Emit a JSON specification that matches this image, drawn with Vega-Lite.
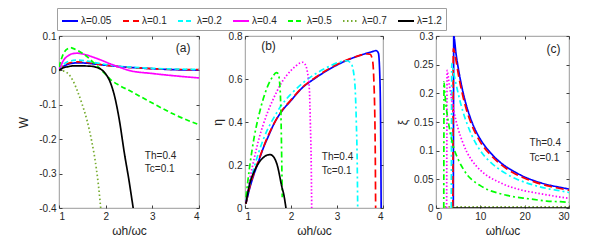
{
"$schema": "https://vega.github.io/schema/vega-lite/v6.json",
"padding": {"left": 17, "top": 7, "right": 5, "bottom": 5},
"background": "white",
"bounds": "flush",
"datasets": {
"A": [
{"l":0.05,"x":1,"y":0},{"l":0.05,"x":1.1,"y":0.012},{"l":0.05,"x":1.2,"y":0.018},{"l":0.05,"x":1.3,"y":0.021},{"l":0.05,"x":1.4,"y":0.022},{"l":0.05,"x":1.6,"y":0.021},{"l":0.05,"x":1.8,"y":0.018},{"l":0.05,"x":2.0,"y":0.015},{"l":0.05,"x":2.3,"y":0.011},{"l":0.05,"x":2.6,"y":0.008},{"l":0.05,"x":3.0,"y":0.005},{"l":0.05,"x":3.5,"y":0.002},{"l":0.05,"x":4,"y":0.001},
{"l":0.1,"x":1,"y":0},{"l":0.1,"x":1.1,"y":0.014},{"l":0.1,"x":1.2,"y":0.021},{"l":0.1,"x":1.3,"y":0.024},{"l":0.1,"x":1.4,"y":0.025},{"l":0.1,"x":1.6,"y":0.023},{"l":0.1,"x":1.8,"y":0.019},{"l":0.1,"x":2.0,"y":0.015},{"l":0.1,"x":2.3,"y":0.011},{"l":0.1,"x":2.6,"y":0.008},{"l":0.1,"x":3.0,"y":0.005},{"l":0.1,"x":3.5,"y":0.003},{"l":0.1,"x":4,"y":0.002},
{"l":0.2,"x":1,"y":0},{"l":0.2,"x":1.1,"y":0.018},{"l":0.2,"x":1.2,"y":0.026},{"l":0.2,"x":1.3,"y":0.029},{"l":0.2,"x":1.4,"y":0.03},{"l":0.2,"x":1.6,"y":0.027},{"l":0.2,"x":1.8,"y":0.022},{"l":0.2,"x":2.0,"y":0.017},{"l":0.2,"x":2.3,"y":0.012},{"l":0.2,"x":2.6,"y":0.009},{"l":0.2,"x":3.0,"y":0.006},{"l":0.2,"x":3.5,"y":0.004},{"l":0.2,"x":4,"y":0.003},
{"l":0.4,"x":1,"y":0},{"l":0.4,"x":1.1,"y":0.03},{"l":0.4,"x":1.2,"y":0.043},{"l":0.4,"x":1.3,"y":0.049},{"l":0.4,"x":1.4,"y":0.05},{"l":0.4,"x":1.5,"y":0.048},{"l":0.4,"x":1.7,"y":0.04},{"l":0.4,"x":1.9,"y":0.03},{"l":0.4,"x":2.1,"y":0.019},{"l":0.4,"x":2.3,"y":0.009},{"l":0.4,"x":2.5,"y":0.0},{"l":0.4,"x":3.0,"y":-0.009},{"l":0.4,"x":3.5,"y":-0.016},{"l":0.4,"x":4,"y":-0.022},
{"l":0.5,"x":1,"y":0.01},{"l":0.5,"x":1.1,"y":0.05},{"l":0.5,"x":1.2,"y":0.064},{"l":0.5,"x":1.25,"y":0.066},{"l":0.5,"x":1.3,"y":0.064},{"l":0.5,"x":1.4,"y":0.058},{"l":0.5,"x":1.5,"y":0.05},{"l":0.5,"x":1.6,"y":0.04},{"l":0.5,"x":1.7,"y":0.028},{"l":0.5,"x":1.8,"y":0.015},{"l":0.5,"x":1.9,"y":0.002},{"l":0.5,"x":2.0,"y":-0.012},{"l":0.5,"x":2.1,"y":-0.026},{"l":0.5,"x":2.3,"y":-0.044},{"l":0.5,"x":2.5,"y":-0.058},{"l":0.5,"x":3.0,"y":-0.095},{"l":0.5,"x":3.5,"y":-0.13},{"l":0.5,"x":4,"y":-0.158},
{"l":0.7,"x":1,"y":0},{"l":0.7,"x":1.1,"y":-0.002},{"l":0.7,"x":1.2,"y":-0.01},{"l":0.7,"x":1.3,"y":-0.03},{"l":0.7,"x":1.4,"y":-0.062},{"l":0.7,"x":1.5,"y":-0.1},{"l":0.7,"x":1.6,"y":-0.145},{"l":0.7,"x":1.7,"y":-0.205},{"l":0.7,"x":1.8,"y":-0.285},{"l":0.7,"x":1.85,"y":-0.34},{"l":0.7,"x":1.9,"y":-0.41},
{"l":1.2,"x":1,"y":0},{"l":1.2,"x":1.1,"y":0.008},{"l":1.2,"x":1.2,"y":0.011},{"l":1.2,"x":1.3,"y":0.013},{"l":1.2,"x":1.5,"y":0.013},{"l":1.2,"x":1.7,"y":0.012},{"l":1.2,"x":1.8,"y":0.009},{"l":1.2,"x":1.9,"y":0.003},{"l":1.2,"x":2.0,"y":-0.01},{"l":1.2,"x":2.1,"y":-0.035},{"l":1.2,"x":2.2,"y":-0.08},{"l":1.2,"x":2.3,"y":-0.15},{"l":1.2,"x":2.4,"y":-0.24},{"l":1.2,"x":2.5,"y":-0.32},{"l":1.2,"x":2.6,"y":-0.41}
],
"B": [
{"l":0.05,"x":1.02,"y":0.02},{"l":0.05,"x":1.1,"y":0.09},{"l":0.05,"x":1.2,"y":0.16},{"l":0.05,"x":1.3,"y":0.22},{"l":0.05,"x":1.4,"y":0.28},{"l":0.05,"x":1.5,"y":0.33},{"l":0.05,"x":1.65,"y":0.4},{"l":0.05,"x":1.8,"y":0.45},{"l":0.05,"x":2.0,"y":0.5},{"l":0.05,"x":2.25,"y":0.56},{"l":0.05,"x":2.5,"y":0.6},{"l":0.05,"x":2.75,"y":0.635},{"l":0.05,"x":3.0,"y":0.665},{"l":0.05,"x":3.25,"y":0.69},{"l":0.05,"x":3.5,"y":0.71},{"l":0.05,"x":3.75,"y":0.726},{"l":0.05,"x":3.85,"y":0.732},{"l":0.05,"x":3.9,"y":0.72},{"l":0.05,"x":3.93,"y":0.62},{"l":0.05,"x":3.95,"y":0.35},{"l":0.05,"x":3.96,"y":0},
{"l":0.1,"x":1.02,"y":0.02},{"l":0.1,"x":1.1,"y":0.095},{"l":0.1,"x":1.2,"y":0.165},{"l":0.1,"x":1.3,"y":0.225},{"l":0.1,"x":1.4,"y":0.283},{"l":0.1,"x":1.5,"y":0.335},{"l":0.1,"x":1.65,"y":0.4},{"l":0.1,"x":1.8,"y":0.452},{"l":0.1,"x":2.0,"y":0.503},{"l":0.1,"x":2.25,"y":0.562},{"l":0.1,"x":2.5,"y":0.603},{"l":0.1,"x":2.75,"y":0.638},{"l":0.1,"x":3.0,"y":0.668},{"l":0.1,"x":3.25,"y":0.692},{"l":0.1,"x":3.5,"y":0.71},{"l":0.1,"x":3.65,"y":0.717},{"l":0.1,"x":3.72,"y":0.715},{"l":0.1,"x":3.77,"y":0.69},{"l":0.1,"x":3.8,"y":0.6},{"l":0.1,"x":3.83,"y":0.3},{"l":0.1,"x":3.84,"y":0},
{"l":0.2,"x":1.02,"y":0.03},{"l":0.2,"x":1.1,"y":0.11},{"l":0.2,"x":1.2,"y":0.19},{"l":0.2,"x":1.3,"y":0.26},{"l":0.2,"x":1.4,"y":0.32},{"l":0.2,"x":1.5,"y":0.37},{"l":0.2,"x":1.6,"y":0.41},{"l":0.2,"x":1.8,"y":0.48},{"l":0.2,"x":2.0,"y":0.53},{"l":0.2,"x":2.25,"y":0.58},{"l":0.2,"x":2.5,"y":0.62},{"l":0.2,"x":2.75,"y":0.65},{"l":0.2,"x":3.0,"y":0.675},{"l":0.2,"x":3.2,"y":0.685},{"l":0.2,"x":3.3,"y":0.675},{"l":0.2,"x":3.38,"y":0.6},{"l":0.2,"x":3.42,"y":0.4},{"l":0.2,"x":3.44,"y":0.2},{"l":0.2,"x":3.45,"y":0},
{"l":0.4,"x":1.02,"y":0.03},{"l":0.4,"x":1.1,"y":0.13},{"l":0.4,"x":1.2,"y":0.23},{"l":0.4,"x":1.3,"y":0.32},{"l":0.4,"x":1.4,"y":0.39},{"l":0.4,"x":1.5,"y":0.45},{"l":0.4,"x":1.6,"y":0.5},{"l":0.4,"x":1.7,"y":0.545},{"l":0.4,"x":1.8,"y":0.585},{"l":0.4,"x":1.9,"y":0.615},{"l":0.4,"x":2.0,"y":0.64},{"l":0.4,"x":2.1,"y":0.66},{"l":0.4,"x":2.2,"y":0.675},{"l":0.4,"x":2.25,"y":0.678},{"l":0.4,"x":2.3,"y":0.67},{"l":0.4,"x":2.35,"y":0.64},{"l":0.4,"x":2.4,"y":0.55},{"l":0.4,"x":2.42,"y":0.4},{"l":0.4,"x":2.44,"y":0.2},{"l":0.4,"x":2.45,"y":0},
{"l":0.5,"x":1.02,"y":0.05},{"l":0.5,"x":1.1,"y":0.19},{"l":0.5,"x":1.2,"y":0.33},{"l":0.5,"x":1.3,"y":0.43},{"l":0.5,"x":1.4,"y":0.51},{"l":0.5,"x":1.5,"y":0.57},{"l":0.5,"x":1.6,"y":0.61},{"l":0.5,"x":1.68,"y":0.63},{"l":0.5,"x":1.72,"y":0.625},{"l":0.5,"x":1.75,"y":0.59},{"l":0.5,"x":1.78,"y":0.45},{"l":0.5,"x":1.8,"y":0.2},{"l":0.5,"x":1.81,"y":0.05},
{"l":1.2,"x":1.02,"y":0.02},{"l":1.2,"x":1.1,"y":0.11},{"l":1.2,"x":1.2,"y":0.17},{"l":1.2,"x":1.3,"y":0.21},{"l":1.2,"x":1.4,"y":0.235},{"l":1.2,"x":1.5,"y":0.247},{"l":1.2,"x":1.55,"y":0.248},{"l":1.2,"x":1.6,"y":0.243},{"l":1.2,"x":1.7,"y":0.2},{"l":1.2,"x":1.8,"y":0.1},{"l":1.2,"x":1.85,"y":0.055},{"l":1.2,"x":1.89,"y":0}
],
"C": [
{"l":0.05,"x":3.9,"y":0},{"l":0.05,"x":3.95,"y":0.15},{"l":0.05,"x":4.0,"y":0.3},{"l":0.05,"x":4.5,"y":0.27},{"l":0.05,"x":5,"y":0.245},{"l":0.05,"x":6,"y":0.205},{"l":0.05,"x":7,"y":0.175},{"l":0.05,"x":8,"y":0.152},{"l":0.05,"x":10,"y":0.12},{"l":0.05,"x":12,"y":0.099},{"l":0.05,"x":14,"y":0.083},{"l":0.05,"x":16,"y":0.071},{"l":0.05,"x":18,"y":0.062},{"l":0.05,"x":20,"y":0.054},{"l":0.05,"x":22,"y":0.048},{"l":0.05,"x":25,"y":0.041},{"l":0.05,"x":28,"y":0.036},{"l":0.05,"x":30,"y":0.033},
{"l":0.1,"x":3.8,"y":0},{"l":0.1,"x":3.85,"y":0.14},{"l":0.1,"x":3.9,"y":0.278},{"l":0.1,"x":4.5,"y":0.258},{"l":0.1,"x":5,"y":0.235},{"l":0.1,"x":6,"y":0.197},{"l":0.1,"x":7,"y":0.168},{"l":0.1,"x":8,"y":0.146},{"l":0.1,"x":10,"y":0.115},{"l":0.1,"x":12,"y":0.095},{"l":0.1,"x":14,"y":0.08},{"l":0.1,"x":16,"y":0.068},{"l":0.1,"x":18,"y":0.059},{"l":0.1,"x":20,"y":0.052},{"l":0.1,"x":22,"y":0.046},{"l":0.1,"x":25,"y":0.039},{"l":0.1,"x":28,"y":0.034},{"l":0.1,"x":30,"y":0.031},
{"l":0.2,"x":3.45,"y":0},{"l":0.2,"x":3.5,"y":0.13},{"l":0.2,"x":3.55,"y":0.252},{"l":0.2,"x":4,"y":0.235},{"l":0.2,"x":5,"y":0.2},{"l":0.2,"x":6,"y":0.17},{"l":0.2,"x":7,"y":0.147},{"l":0.2,"x":8,"y":0.128},{"l":0.2,"x":10,"y":0.1},{"l":0.2,"x":12,"y":0.082},{"l":0.2,"x":14,"y":0.069},{"l":0.2,"x":16,"y":0.059},{"l":0.2,"x":18,"y":0.051},{"l":0.2,"x":20,"y":0.045},{"l":0.2,"x":22,"y":0.04},{"l":0.2,"x":25,"y":0.034},{"l":0.2,"x":28,"y":0.03},{"l":0.2,"x":30,"y":0.027},
{"l":0.4,"x":2.4,"y":0},{"l":0.4,"x":2.45,"y":0.12},{"l":0.4,"x":2.5,"y":0.24},{"l":0.4,"x":3,"y":0.215},{"l":0.4,"x":4,"y":0.17},{"l":0.4,"x":5,"y":0.138},{"l":0.4,"x":6,"y":0.115},{"l":0.4,"x":7,"y":0.097},{"l":0.4,"x":8,"y":0.084},{"l":0.4,"x":10,"y":0.066},{"l":0.4,"x":12,"y":0.054},{"l":0.4,"x":14,"y":0.046},{"l":0.4,"x":16,"y":0.039},{"l":0.4,"x":18,"y":0.034},{"l":0.4,"x":20,"y":0.03},{"l":0.4,"x":22,"y":0.027},{"l":0.4,"x":25,"y":0.023},{"l":0.4,"x":28,"y":0.019},{"l":0.4,"x":30,"y":0.017},
{"l":0.5,"x":1.75,"y":0},{"l":0.5,"x":1.78,"y":0.11},{"l":0.5,"x":1.8,"y":0.22},{"l":0.5,"x":2,"y":0.2},{"l":0.5,"x":3,"y":0.14},{"l":0.5,"x":4,"y":0.105},{"l":0.5,"x":5,"y":0.085},{"l":0.5,"x":6,"y":0.07},{"l":0.5,"x":7,"y":0.058},{"l":0.5,"x":8,"y":0.05},{"l":0.5,"x":10,"y":0.039},{"l":0.5,"x":12,"y":0.031},{"l":0.5,"x":14,"y":0.026},{"l":0.5,"x":16,"y":0.022},{"l":0.5,"x":18,"y":0.019},{"l":0.5,"x":20,"y":0.017},{"l":0.5,"x":22,"y":0.015},{"l":0.5,"x":25,"y":0.012},{"l":0.5,"x":28,"y":0.011},{"l":0.5,"x":30,"y":0.01},
{"l":0.7,"x":1.9,"y":0.002},{"l":0.7,"x":30,"y":0.002},
{"l":1.2,"x":3.9,"y":0},{"l":1.2,"x":30,"y":0}
],
"TA": [{"x":2.84,"y":-0.249,"t":"Th=0.4"},{"x":2.84,"y":-0.286,"t":"Tc=0.1"}],
"TB": [{"x":2.67,"y":0.235,"t":"Th=0.4"},{"x":2.67,"y":0.17,"t":"Tc=0.1"}],
"TC": [{"x":21.1,"y":0.113,"t":"Th=0.4"},{"x":21.1,"y":0.088,"t":"Tc=0.1"}],
"LA": [{"x":3.66,"y":0.064,"t":"(a)"}],
"LB": [{"x":1.51,"y":0.754,"t":"(b)"}],
"LC": [{"x":26.5,"y":0.277,"t":"(c)"}]
},
"hconcat": [
{
"width": 140, "height": 172,
"resolve": {"axis": {"x": "independent", "y": "independent"}},
"layer": [
{"data": {"name": "A"},
 "mark": {"type": "line", "clip": true, "strokeWidth": 1.7, "interpolate": "monotone"},
 "encoding": {
  "x": {"field": "x", "type": "quantitative", "scale": {"domain": [1, 4], "nice": false, "zero": false}, "axis": {"values": [1, 2, 3, 4], "tickCount": 20, "format": "~g", "title": "ωh/ωc", "orient": "bottom"}},
  "y": {"field": "y", "type": "quantitative", "scale": {"domain": [-0.4, 0.1], "nice": false}, "axis": {"values": [-0.4, -0.3, -0.2, -0.1, 0, 0.1], "tickCount": 20, "title": "W", "orient": "left", "titlePadding": 8, "labelExpr": "(datum.value < 0 ? '-' : '') + format(abs(datum.value), '~g')"}},
  "color": {"field": "l", "type": "nominal", "scale": {"domain": [0.05, 0.1, 0.2, 0.4, 0.5, 0.7, 1.2], "range": ["#0000ff", "#ff0000", "#00ffff", "#ff00ff", "#00ff00", "#77ac30", "#000000"]},
   "legend": {"title": null, "orient": "none", "legendX": -2, "legendY": -28, "direction": "horizontal", "labelExpr": "'λ=' + datum.label"}},
  "strokeDash": {"field": "l", "type": "nominal", "scale": {"domain": [0.05, 0.1, 0.2, 0.4, 0.5, 0.7, 1.2], "range": [[1, 0], [6, 4], [5, 3], [1, 0], [5, 3], [1.5, 2.5], [1, 0]]},
   "legend": {"title": null, "orient": "none", "legendX": -2, "legendY": -28, "direction": "horizontal", "labelExpr": "'λ=' + datum.label"}}
 }},
{"data": {"name": "TA"}, "mark": {"type": "text", "align": "left", "baseline": "middle", "fontSize": 10, "color": "#262626"},
 "encoding": {"x": {"field": "x", "type": "quantitative", "axis": {"orient": "top", "values": [1, 2, 3, 4], "tickCount": 20, "labels": false, "title": null}}, "y": {"field": "y", "type": "quantitative", "axis": {"orient": "right", "values": [-0.4, -0.3, -0.2, -0.1, 0, 0.1], "tickCount": 20, "labels": false, "title": null}}, "text": {"field": "t"}}},
{"data": {"name": "LA"}, "mark": {"type": "text", "align": "center", "baseline": "middle", "fontSize": 12, "color": "#262626"},
 "encoding": {"x": {"field": "x", "type": "quantitative", "axis": null}, "y": {"field": "y", "type": "quantitative", "axis": null}, "text": {"field": "t"}}}
]
},
{
"hconcat": [
{
"width": 138, "height": 172,
"resolve": {"axis": {"x": "independent", "y": "independent"}},
"layer": [
{"data": {"name": "B"},
 "mark": {"type": "line", "clip": true, "strokeWidth": 1.7, "interpolate": "monotone"},
 "encoding": {
  "x": {"field": "x", "type": "quantitative", "scale": {"domain": [1, 4], "nice": false, "zero": false}, "axis": {"values": [1, 2, 3, 4], "tickCount": 20, "format": "~g", "title": "ωh/ωc", "orient": "bottom"}},
  "y": {"field": "y", "type": "quantitative", "scale": {"domain": [0, 0.8], "nice": false}, "axis": {"values": [0, 0.2, 0.4, 0.6, 0.8], "tickCount": 20, "title": "η", "orient": "left", "format": "~g"}},
  "color": {"field": "l", "type": "nominal", "legend": null},
  "strokeDash": {"field": "l", "type": "nominal", "scale": {"domain": [0.05, 0.1, 0.2, 0.4, 0.5, 0.7, 1.2], "range": [[1, 0], [8, 4], [6, 3, 2, 3], [1.5, 2], [6, 3, 2, 3], [1.5, 2.5], [1, 0]]}, "legend": null}
 }},
{"data": {"name": "TB"}, "mark": {"type": "text", "align": "left", "baseline": "middle", "fontSize": 10, "color": "#262626"},
 "encoding": {"x": {"field": "x", "type": "quantitative", "axis": {"orient": "top", "values": [1, 2, 3, 4], "tickCount": 20, "labels": false, "title": null}}, "y": {"field": "y", "type": "quantitative", "axis": {"orient": "right", "values": [0, 0.2, 0.4, 0.6, 0.8], "tickCount": 20, "labels": false, "title": null}}, "text": {"field": "t"}}},
{"data": {"name": "LB"}, "mark": {"type": "text", "align": "center", "baseline": "middle", "fontSize": 12, "color": "#262626"},
 "encoding": {"x": {"field": "x", "type": "quantitative", "axis": null}, "y": {"field": "y", "type": "quantitative", "axis": null}, "text": {"field": "t"}}}
]
},
{
"width": 133, "height": 172,
"resolve": {"axis": {"x": "independent", "y": "independent"}},
"layer": [
{"data": {"name": "C"},
 "mark": {"type": "line", "clip": true, "strokeWidth": 1.7, "interpolate": "monotone"},
 "encoding": {
  "x": {"field": "x", "type": "quantitative", "scale": {"domain": [0, 30], "nice": false}, "axis": {"values": [0, 10, 20, 30], "tickCount": 20, "format": "~g", "title": "ωh/ωc", "orient": "bottom"}},
  "y": {"field": "y", "type": "quantitative", "scale": {"domain": [0, 0.3], "nice": false}, "axis": {"values": [0, 0.05, 0.1, 0.15, 0.2, 0.25, 0.3], "tickCount": 20, "title": "ξ", "orient": "left", "format": "~g"}},
  "color": {"field": "l", "type": "nominal", "legend": null},
  "strokeDash": {"field": "l", "type": "nominal", "scale": {"domain": [0.05, 0.1, 0.2, 0.4, 0.5, 0.7, 1.2], "range": [[1, 0], [8, 4], [6, 3, 2, 3], [1.5, 2], [6, 3, 2, 3], [1.5, 2.5], [1, 0]]}, "legend": null}
 }},
{"data": {"name": "TC"}, "mark": {"type": "text", "align": "left", "baseline": "middle", "fontSize": 10, "color": "#262626"},
 "encoding": {"x": {"field": "x", "type": "quantitative", "axis": {"orient": "top", "values": [0, 10, 20, 30], "tickCount": 20, "labels": false, "title": null}}, "y": {"field": "y", "type": "quantitative", "axis": {"orient": "right", "values": [0, 0.05, 0.1, 0.15, 0.2, 0.25, 0.3], "tickCount": 20, "labels": false, "title": null}}, "text": {"field": "t"}}},
{"data": {"name": "LC"}, "mark": {"type": "text", "align": "center", "baseline": "middle", "fontSize": 12, "color": "#262626"},
 "encoding": {"x": {"field": "x", "type": "quantitative", "axis": null}, "y": {"field": "y", "type": "quantitative", "axis": null}, "text": {"field": "t"}}}
]
}
],
"spacing": 53,
"bounds": "flush",
"resolve": {"scale": {"strokeDash": "independent"}, "legend": {"color": "independent", "strokeDash": "independent"}}
}
],
"spacing": 46,
"resolve": {"scale": {"strokeDash": "independent"}, "legend": {"color": "independent", "strokeDash": "independent"}},
"config": {
 "font": "Liberation Sans",
 "view": {"stroke": "#808080", "strokeWidth": 0.8},
 "axis": {"grid": false, "domain": false, "tickSize": -3, "tickColor": "#404040", "labelOverlap": false, "labelFont": "Liberation Sans", "labelFontSize": 10, "labelColor": "#262626", "labelPadding": 6, "titleFont": "Liberation Sans", "titleFontWeight": "normal", "titleColor": "#262626", "titleFontSize": 12, "titlePadding": 4},
 "legend": {"strokeColor": "#a0a0a0", "padding": 4, "gridAlign": "each", "symbolStrokeWidth": 2, "labelFont": "Liberation Sans", "labelFontSize": 10, "labelColor": "#262626", "columnPadding": 7, "labelOffset": 2, "symbolType": "stroke", "symbolSize": 256, "fillColor": "white"},
 "text": {"font": "Liberation Sans"}
}
}
